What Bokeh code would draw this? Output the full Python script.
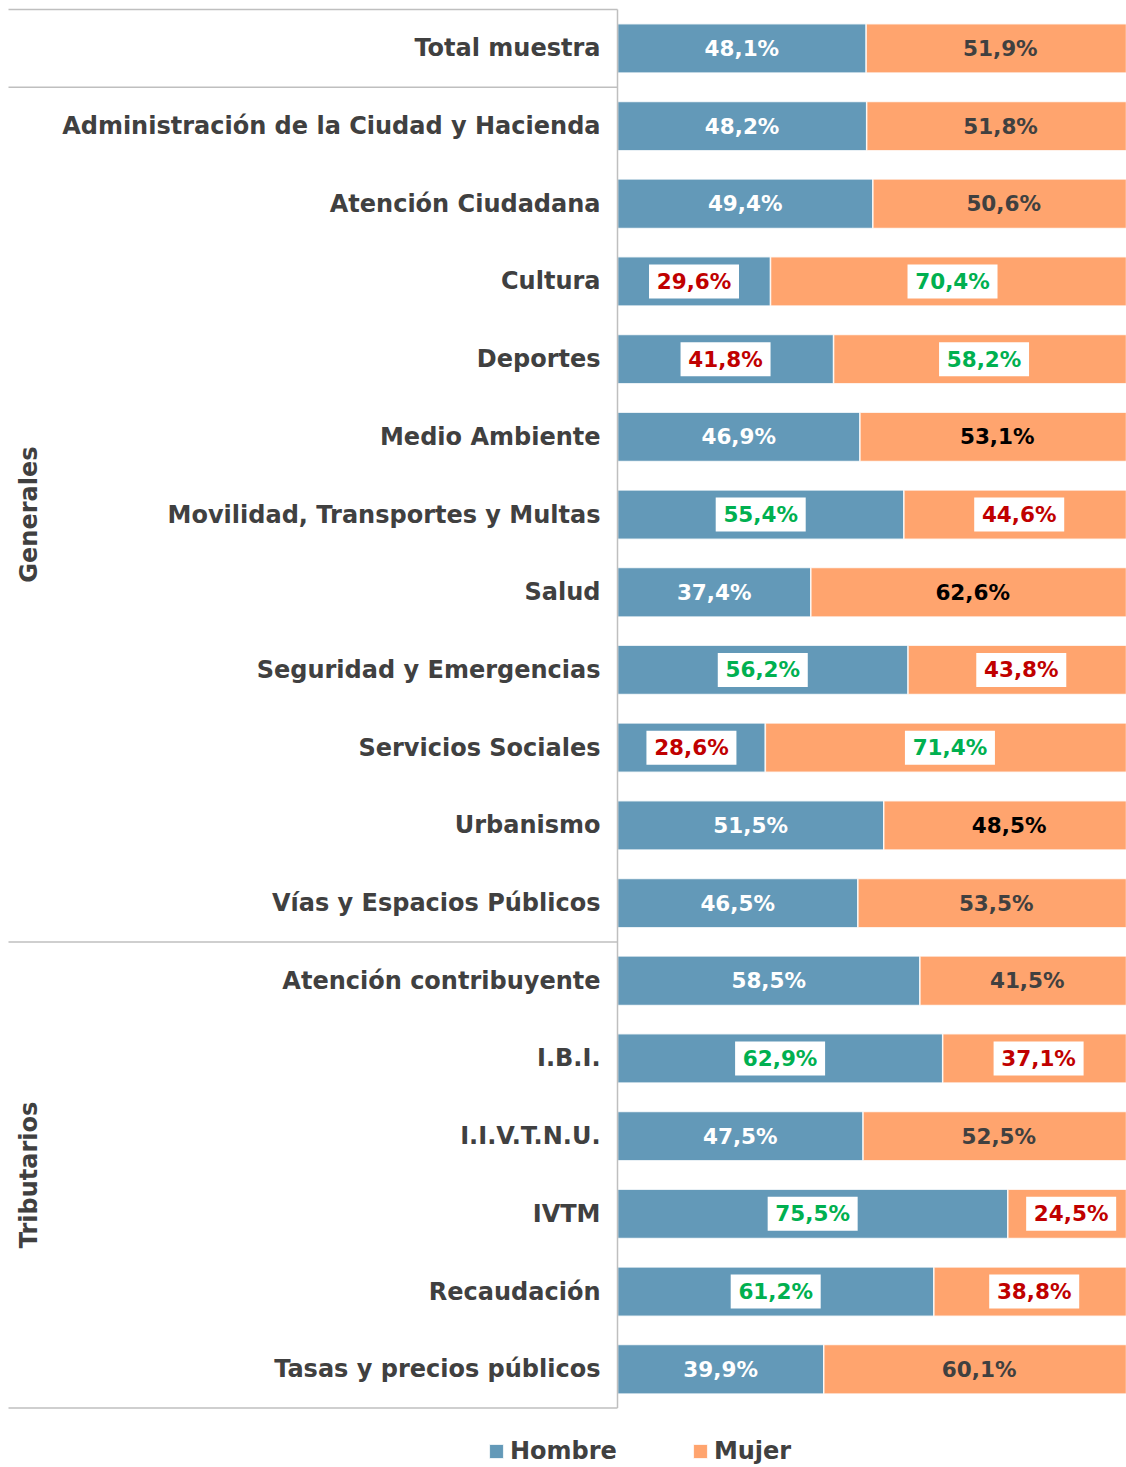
from bokeh.plotting import figure
from bokeh.models import ColumnDataSource, Range1d, Legend, LegendItem
from bokeh.embed import file_html
from bokeh.resources import INLINE
from bokeh.core.properties import value

# ---------------- data ----------------
categorias = [
    "Total muestra",
    "Administración de la Ciudad y Hacienda",
    "Atención Ciudadana",
    "Cultura",
    "Deportes",
    "Medio Ambiente",
    "Movilidad, Transportes y Multas",
    "Salud",
    "Seguridad y Emergencias",
    "Servicios Sociales",
    "Urbanismo",
    "Vías y Espacios Públicos",
    "Atención contribuyente",
    "I.B.I.",
    "I.I.V.T.N.U.",
    "IVTM",
    "Recaudación",
    "Tasas y precios públicos",
]
hombre = [48.1, 48.2, 49.4, 29.6, 41.8, 46.9, 55.4, 37.4, 56.2, 28.6, 51.5, 46.5, 58.5, 62.9, 47.5, 75.5, 61.2, 39.9]
mujer = [51.9, 51.8, 50.6, 70.4, 58.2, 53.1, 44.6, 62.6, 43.8, 71.4, 48.5, 53.5, 41.5, 37.1, 52.5, 24.5, 38.8, 60.1]
# label style: n = normal, k = black, r = red on white box, g = green on white box
hombre_estilo = ["n", "n", "n", "r", "r", "n", "g", "n", "g", "r", "n", "n", "n", "g", "n", "g", "g", "n"]
mujer_estilo = ["n", "n", "n", "g", "g", "k", "r", "k", "r", "g", "k", "n", "n", "r", "n", "r", "r", "n"]
grupos = ["Generales", "Tributarios"]
grupo_filas = [(1, 11), (12, 17)]
series = ["Hombre", "Mujer"]

# ---------------- style ----------------
AZUL = "#6399B8"
NARANJA = "#FFA46E"
GRIS_TXT = "#404040"
ROJO = "#C00000"
VERDE = "#00B050"
LINEA = "#BFBFBF"
FONT = "DejaVu Sans"

W, H = 1126, 1467
PX = 5.17        # pixels per percentage point
ZERO_PX = 617    # pixels from frame left to the 0 % line
ROW_PX = 77.7    # pixels per row
TOP_PX = 9       # pixels from frame top to the first row boundary

n = len(categorias)
ys = list(range(n))

x_range = Range1d(-ZERO_PX / PX, (W - ZERO_PX) / PX)
y_range = Range1d(-0.5 + (H - TOP_PX) / ROW_PX, -0.5 - TOP_PX / ROW_PX)

p = figure(width=W, height=H, x_range=x_range, y_range=y_range,
           toolbar_location=None, output_backend="svg", min_border=0)
p.axis.visible = False
p.grid.visible = False
p.outline_line_color = None
p.background_fill_color = "white"
p.border_fill_color = "white"

src = ColumnDataSource(dict(y=ys, Hombre=hombre, Mujer=mujer))
bars = p.hbar_stack(series, y="y", height=0.635, source=src,
                    fill_color=[AZUL, NARANJA], line_color="white",
                    line_width=1.5, line_alpha=0.8)

# ---------- value labels ----------
def fmt(v):
    return f"{v:.1f}".replace(".", ",") + "%"

lx, ly, lt, lc = [], [], [], []
bx, by = [], []
for i in range(n):
    for (xc, v, est, normal) in ((hombre[i] / 2, hombre[i], hombre_estilo[i], "white"),
                                  (hombre[i] + mujer[i] / 2, mujer[i], mujer_estilo[i], GRIS_TXT)):
        lx.append(xc)
        ly.append(i)
        lt.append(fmt(v))
        if est == "r":
            lc.append(ROJO)
        elif est == "g":
            lc.append(VERDE)
        elif est == "k":
            lc.append("black")
        else:
            lc.append(normal)
        if est in ("r", "g"):
            bx.append(xc)
            by.append(i)

p.rect(x=bx, y=by, width=90, height=34, width_units="screen", height_units="screen",
       fill_color="white", line_color=None)
p.text(x=lx, y=ly, text=lt, text_color=lc, text_align="center", text_baseline="middle",
       text_font=value(FONT), text_font_style="bold", text_font_size="21.5px")

# ---------- category labels ----------
p.text(x=[0] * n, y=ys, text=categorias, x_offset=-17, text_align="right",
       text_baseline="middle", text_color=GRIS_TXT, text_font=value(FONT),
       text_font_style="bold", text_font_size="24px")

# ---------- group labels ----------
gy = [(a + b) / 2 for a, b in grupo_filas]
p.text(x=[x_range.start] * len(grupos), y=gy, text=grupos, x_offset=28, angle=90,
       angle_units="deg", text_align="center", text_baseline="middle",
       text_color=GRIS_TXT, text_font=value(FONT), text_font_style="bold",
       text_font_size="24px")

# ---------- separators and axis line ----------
bounds = [-0.5] + [a - 0.5 for a, b in grupo_filas] + [grupo_filas[-1][1] + 0.5]
p.segment(x0=[x_range.start + 8 / PX] * len(bounds), x1=[0] * len(bounds), y0=bounds, y1=bounds,
          line_color=LINEA, line_width=1.5)
p.segment(x0=[0], x1=[0], y0=[-0.5], y1=[n - 0.5], line_color=LINEA, line_width=1.5)

# ---------- legend ----------
legend = Legend(items=[LegendItem(label=s, renderers=[r]) for s, r in zip(series, bars)],
                orientation="horizontal", location=(487, 2),
                glyph_width=18, glyph_height=18, label_standoff=5, spacing=74,
                padding=0, margin=0, border_line_color=None, background_fill_alpha=0,
                label_text_font=FONT, label_text_font_style="bold",
                label_text_font_size="24px", label_text_color=GRIS_TXT)
p.add_layout(legend)

open("out.html", "w").write(file_html(p, INLINE))
